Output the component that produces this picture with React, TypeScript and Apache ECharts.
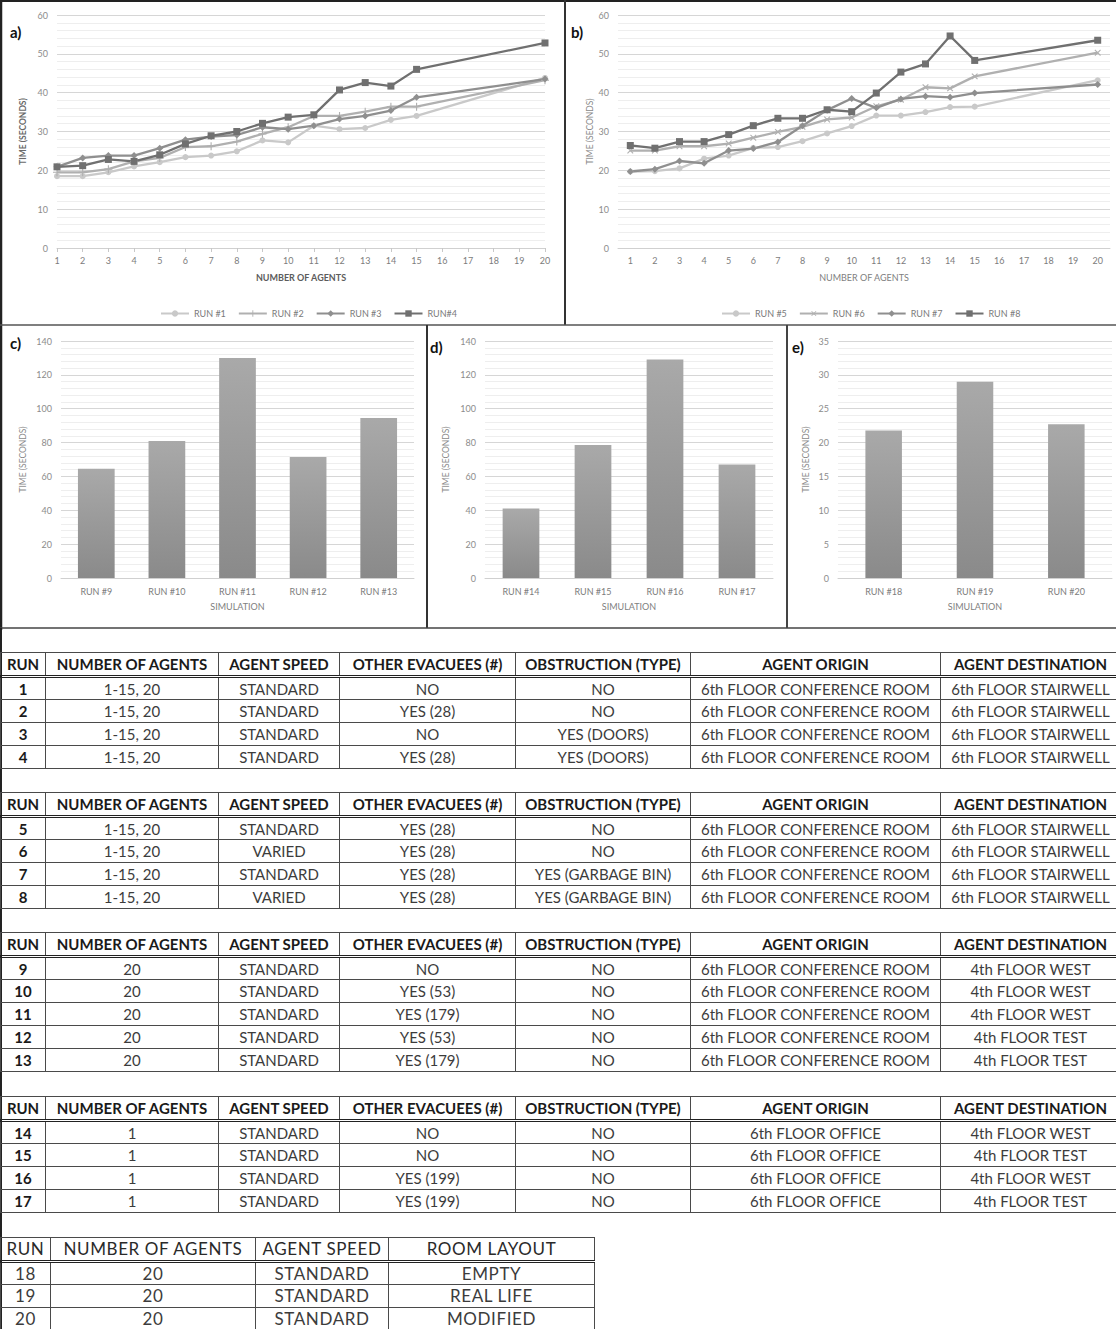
import React, { useEffect, useRef } from "react";
import * as echarts from "echarts";

const FONT = "Lato, 'Open Sans', sans-serif";

// ---------- chart data ----------
const agentCategories = ["1", "2", "3", "4", "5", "6", "7", "8", "9", "10", "11", "12", "13", "14", "15", "16", "17", "18", "19", "20"];

const run1 = [18.5, 18.5, 19.5, 21.0, 22.1, 23.4, 23.8, 24.9, 27.7, 27.2, 31.5, 30.6, 30.9, 33.0, 34.0, null, null, null, null, 43.8];
const run2 = [19.5, 19.5, 20.3, 22.3, 23.2, 26.0, 26.2, 27.4, 29.4, 31.1, 34.0, 34.0, 35.1, 36.4, 36.4, null, null, null, null, 43.2];
const run3 = [20.9, 23.2, 23.8, 23.8, 25.7, 27.9, 28.7, 29.1, 31.1, 30.6, 31.5, 33.2, 34.0, 35.4, 38.8, null, null, null, null, 43.5];
const run4 = [20.9, 21.2, 22.8, 22.3, 24.0, 26.8, 28.9, 30.0, 32.1, 33.7, 34.3, 40.7, 42.6, 41.7, 46.0, null, null, null, null, 52.8];

const run5 = [19.7, 19.8, 20.5, 23.0, 23.8, 25.8, 26.0, 27.5, 29.5, 31.4, 34.1, 34.1, 35.0, 36.3, 36.4, null, null, null, null, 43.2];
const run6 = [25.1, 25.1, 26.2, 26.2, 26.9, 28.4, 29.9, 31.2, 33.1, 33.6, 36.5, 38.2, 41.4, 41.1, 44.2, null, null, null, null, 50.3];
const run7 = [19.7, 20.3, 22.4, 21.8, 25.1, 25.6, 27.3, 31.5, 35.5, 38.5, 36.1, 38.4, 39.1, 38.8, 39.9, null, null, null, null, 42.1];
const run8 = [26.4, 25.7, 27.4, 27.4, 29.2, 31.5, 33.4, 33.4, 35.6, 35.1, 39.9, 45.3, 47.4, 54.6, 48.3, null, null, null, null, 53.5];

const simC = ["RUN #9", "RUN #10", "RUN #11", "RUN #12", "RUN #13"];
const timeC = [64.5, 81, 130, 71.5, 94.5];
const simD = ["RUN #14", "RUN #15", "RUN #16", "RUN #17"];
const timeD = [41, 78.5, 129, 67];
const simE = ["RUN #18", "RUN #19", "RUN #20"];
const timeE = [21.8, 29, 22.7];

// ---------- table data ----------
const tableHeader = ["RUN", "NUMBER OF AGENTS", "AGENT SPEED", "OTHER EVACUEES (#)", "OBSTRUCTION (TYPE)", "AGENT ORIGIN", "AGENT DESTINATION"];
const table1Rows = [
  ["1", "1-15, 20", "STANDARD", "NO", "NO", "6th FLOOR CONFERENCE ROOM", "6th FLOOR STAIRWELL"],
  ["2", "1-15, 20", "STANDARD", "YES (28)", "NO", "6th FLOOR CONFERENCE ROOM", "6th FLOOR STAIRWELL"],
  ["3", "1-15, 20", "STANDARD", "NO", "YES (DOORS)", "6th FLOOR CONFERENCE ROOM", "6th FLOOR STAIRWELL"],
  ["4", "1-15, 20", "STANDARD", "YES (28)", "YES (DOORS)", "6th FLOOR CONFERENCE ROOM", "6th FLOOR STAIRWELL"],
];
const table2Rows = [
  ["5", "1-15, 20", "STANDARD", "YES (28)", "NO", "6th FLOOR CONFERENCE ROOM", "6th FLOOR STAIRWELL"],
  ["6", "1-15, 20", "VARIED", "YES (28)", "NO", "6th FLOOR CONFERENCE ROOM", "6th FLOOR STAIRWELL"],
  ["7", "1-15, 20", "STANDARD", "YES (28)", "YES (GARBAGE BIN)", "6th FLOOR CONFERENCE ROOM", "6th FLOOR STAIRWELL"],
  ["8", "1-15, 20", "VARIED", "YES (28)", "YES (GARBAGE BIN)", "6th FLOOR CONFERENCE ROOM", "6th FLOOR STAIRWELL"],
];
const table3Rows = [
  ["9", "20", "STANDARD", "NO", "NO", "6th FLOOR CONFERENCE ROOM", "4th FLOOR WEST"],
  ["10", "20", "STANDARD", "YES (53)", "NO", "6th FLOOR CONFERENCE ROOM", "4th FLOOR WEST"],
  ["11", "20", "STANDARD", "YES (179)", "NO", "6th FLOOR CONFERENCE ROOM", "4th FLOOR WEST"],
  ["12", "20", "STANDARD", "YES (53)", "NO", "6th FLOOR CONFERENCE ROOM", "4th FLOOR TEST"],
  ["13", "20", "STANDARD", "YES (179)", "NO", "6th FLOOR CONFERENCE ROOM", "4th FLOOR TEST"],
];
const table4Rows = [
  ["14", "1", "STANDARD", "NO", "NO", "6th FLOOR OFFICE", "4th FLOOR WEST"],
  ["15", "1", "STANDARD", "NO", "NO", "6th FLOOR OFFICE", "4th FLOOR TEST"],
  ["16", "1", "STANDARD", "YES (199)", "NO", "6th FLOOR OFFICE", "4th FLOOR WEST"],
  ["17", "1", "STANDARD", "YES (199)", "NO", "6th FLOOR OFFICE", "4th FLOOR TEST"],
];
const table5Header = ["RUN", "NUMBER OF AGENTS", "AGENT SPEED", "ROOM LAYOUT"];
const table5Rows = [
  ["18", "20", "STANDARD", "EMPTY"],
  ["19", "20", "STANDARD", "REAL LIFE"],
  ["20", "20", "STANDARD", "MODIFIED"],
];

const mainWidths = [45, 173, 121, 176, 175, 250, 180];
const layoutWidths = [50, 205, 133, 206];

// ---------- chart option ----------
const PLUS = "path://M4.3,0H5.7V4.3H10V5.7H5.7V10H4.3V5.7H0V4.3H4.3Z";

const C1 = "#c9c9c9";
const C2 = "#b0b0b0";
const C3 = "#8f8f8f";
const C4 = "#707070";

function lineSeries(name: string, data: (number | null)[], color: string, symbol: string, size: number, axis: number, rotate = 0) {
  return {
    type: "line",
    name,
    data,
    xAxisIndex: axis,
    yAxisIndex: axis,
    connectNulls: true,
    symbol,
    symbolSize: size,
    symbolRotate: rotate,
    showAllSymbol: true,
    lineStyle: { color, width: 2.3 },
    itemStyle: { color, borderWidth: 0 },
    emphasis: { disabled: true },
  };
}

function valueAxis(gridIndex: number, max: number, interval: number, nameGap: number, bold: boolean) {
  return {
    type: "value",
    gridIndex,
    min: 0,
    max,
    interval,
    name: "TIME (SECONDS)",
    nameLocation: "middle",
    nameGap,
    nameTextStyle: { fontSize: 8.5, color: bold ? "#6a6a6a" : "#8a8a8a", fontWeight: bold ? "bold" : "normal", fontFamily: FONT },
    axisLabel: { fontSize: 9, color: "#8c8c8c", margin: 9, fontFamily: FONT },
    axisLine: { show: false },
    axisTick: { show: false },
    splitLine: { show: true, lineStyle: { color: "#d6d6d6", width: 1 } },
    minorTick: { show: false, splitNumber: 5 },
    minorSplitLine: { show: true, lineStyle: { color: "#eeeeee", width: 1 } },
  };
}

function catAxis(gridIndex: number, data: string[], name: string, boundaryGap: boolean, ticks: boolean, bold: boolean, nameGap: number, margin: number) {
  return {
    type: "category",
    gridIndex,
    data,
    boundaryGap,
    name,
    nameLocation: "middle",
    nameGap,
    nameTextStyle: { fontSize: 9, color: bold ? "#5c5c5c" : "#808080", fontWeight: bold ? "bold" : "normal", fontFamily: FONT },
    axisLine: { show: true, lineStyle: { color: "#d0d0d0", width: 1 } },
    axisTick: { show: ticks, length: 4, alignWithLabel: true, lineStyle: { color: "#c8c8c8" } },
    axisLabel: { fontSize: 9, color: "#7c7c7c", margin, fontFamily: FONT, interval: 0 },
    splitLine: { show: false },
  };
}

function barSeries(data: number[], axis: number, width: string) {
  return {
    type: "bar",
    data,
    xAxisIndex: axis,
    yAxisIndex: axis,
    barWidth: width,
    itemStyle: {
      color: new echarts.graphic.LinearGradient(0, 0, 0, 1, [
        { offset: 0, color: "#a9a9a9" },
        { offset: 1, color: "#8a8a8a" },
      ]),
    },
    emphasis: { disabled: true },
  };
}

function border(x1: number, y1: number, x2: number, y2: number, color = "#2e2e2e", w = 2) {
  return { type: "line", shape: { x1, y1, x2, y2 }, style: { stroke: color, lineWidth: w }, silent: true };
}

function panelLabel(text: string, x: number, y: number) {
  return {
    type: "text",
    x,
    y,
    style: { text, fontSize: 15, fontWeight: "bold", fill: "#111", fontFamily: FONT, textVerticalAlign: "middle", verticalAlign: "middle" },
    silent: true,
  };
}

function buildOption() {
  return {
    animation: false,
    backgroundColor: "#ffffff",
    textStyle: { fontFamily: FONT },
    grid: [
      { left: 57, top: 15, width: 488, height: 233 },
      { left: 618, top: 15, width: 492, height: 233 },
      { left: 61, top: 341, width: 353, height: 237 },
      { left: 485, top: 341, width: 288, height: 237 },
      { left: 838, top: 341, width: 274, height: 237 },
    ],
    xAxis: [
      catAxis(0, agentCategories, "NUMBER OF AGENTS", false, true, true, 25, 8),
      catAxis(1, agentCategories, "NUMBER OF AGENTS", true, false, false, 25, 8),
      catAxis(2, simC, "SIMULATION", true, false, false, 24, 9),
      catAxis(3, simD, "SIMULATION", true, false, false, 24, 9),
      catAxis(4, simE, "SIMULATION", true, false, false, 24, 9),
    ],
    yAxis: [
      valueAxis(0, 60, 10, 30, true),
      valueAxis(1, 60, 10, 20, false),
      valueAxis(2, 140, 20, 34, false),
      valueAxis(3, 140, 20, 35, false),
      valueAxis(4, 35, 5, 28, false),
    ],
    legend: [
      {
        data: ["RUN #1", "RUN #2", "RUN #3", "RUN#4"],
        left: 155,
        top: 304,
        itemWidth: 28,
        itemHeight: 8,
        itemGap: 12,
        textStyle: { fontSize: 9, color: "#7a7a7a", fontFamily: FONT },
        selectedMode: false,
      },
      {
        data: ["RUN #5", "RUN #6", "RUN #7", "RUN #8"],
        left: 716,
        top: 304,
        itemWidth: 28,
        itemHeight: 8,
        itemGap: 12,
        textStyle: { fontSize: 9, color: "#7a7a7a", fontFamily: FONT },
        selectedMode: false,
      },
    ],
    series: [
      lineSeries("RUN #1", run1, C1, "circle", 6, 0),
      lineSeries("RUN #2", run2, C2, PLUS, 8, 0),
      lineSeries("RUN #3", run3, C3, "diamond", 7, 0),
      lineSeries("RUN#4", run4, C4, "rect", 7, 0),
      lineSeries("RUN #5", run5, C1, "circle", 6, 1),
      lineSeries("RUN #6", run6, C2, PLUS, 8, 1, 45),
      lineSeries("RUN #7", run7, C3, "diamond", 7, 1),
      lineSeries("RUN #8", run8, C4, "rect", 7, 1),
      barSeries(timeC, 2, "52%"),
      barSeries(timeD, 3, "51%"),
      barSeries(timeE, 4, "40%"),
    ],
    graphic: [
      border(1, 0, 1, 630, "#222", 2.5),
      border(0, 1, 1116, 1, "#222", 2),
      border(565, 0, 565, 325, "#333", 2),
      border(0, 325, 1116, 325, "#555", 1.5),
      border(427, 325, 427, 628, "#333", 2),
      border(787, 325, 787, 628, "#444", 2),
      border(0, 628, 1116, 628, "#444", 1.5),
      panelLabel("a)", 10, 32),
      panelLabel("b)", 571, 32),
      panelLabel("c)", 10, 343),
      panelLabel("d)", 430, 347),
      panelLabel("e)", 792, 347),
    ],
  };
}

function Chart() {
  const ref = useRef<HTMLDivElement>(null);
  useEffect(() => {
    if (!ref.current) return;
    const chart = echarts.init(ref.current, null, { renderer: "svg" });
    chart.setOption(buildOption() as any);
    return () => chart.dispose();
  }, []);
  return <div ref={ref} style={{ position: "absolute", left: 0, top: 0, width: 1116, height: 630 }} />;
}

function DataTable(props: {
  top: number;
  widths: number[];
  header: string[];
  rows: string[][];
  headerBold: boolean;
  fontSize: number;
  letterSpacing?: number;
  boldFirst: boolean;
}) {
  const { top, widths, header, rows, headerBold, fontSize, letterSpacing = 0, boldFirst } = props;
  const total = widths.reduce((a, b) => a + b, 0);
  const cell: React.CSSProperties = {
    border: "1px solid #4a4a4a",
    padding: 0,
    textAlign: "center",
    whiteSpace: "nowrap",
    overflow: "hidden",
    lineHeight: "20px",
  };
  return (
    <table
      style={{
        position: "absolute",
        top,
        left: 0,
        width: total,
        borderCollapse: "collapse",
        tableLayout: "fixed",
        fontFamily: FONT,
        fontSize,
        letterSpacing,
        color: "#3c3c3c",
      }}
    >
      <colgroup>
        {widths.map((w, i) => (
          <col key={i} style={{ width: w }} />
        ))}
      </colgroup>
      <thead>
        <tr style={{ height: 24 }}>
          {header.map((h, i) => (
            <th
              key={i}
              style={{ ...cell, borderBottom: "3px double #222", fontWeight: headerBold ? 700 : 400, color: headerBold ? "#1a1a1a" : "#2a2a2a" }}
            >
              {h}
            </th>
          ))}
        </tr>
      </thead>
      <tbody>
        {rows.map((r, ri) => (
          <tr key={ri} style={{ height: 23 }}>
            {r.map((c, ci) => (
              <td
                key={ci}
                style={{ ...cell, fontWeight: boldFirst && ci === 0 ? 700 : 400, color: boldFirst && ci === 0 ? "#1a1a1a" : "#3c3c3c" }}
              >
                {c}
              </td>
            ))}
          </tr>
        ))}
      </tbody>
    </table>
  );
}

export default function App() {
  return (
    <div
      style={{
        position: "absolute",
        left: 0,
        top: 0,
        width: 1116,
        height: 1329,
        overflow: "hidden",
        background: "#ffffff",
      }}
    >
      <Chart />
      <div style={{ position: "absolute", left: 0, top: 628, width: 2, height: 701, background: "#222" }} />
      <DataTable top={652} widths={mainWidths} header={tableHeader} rows={table1Rows} headerBold fontSize={15} boldFirst />
      <DataTable top={792} widths={mainWidths} header={tableHeader} rows={table2Rows} headerBold fontSize={15} boldFirst />
      <DataTable top={932} widths={mainWidths} header={tableHeader} rows={table3Rows} headerBold fontSize={15} boldFirst />
      <DataTable top={1096} widths={mainWidths} header={tableHeader} rows={table4Rows} headerBold fontSize={15} boldFirst />
      <DataTable
        top={1237}
        widths={layoutWidths}
        header={table5Header}
        rows={table5Rows}
        headerBold={false}
        fontSize={17}
        letterSpacing={0.6}
        boldFirst={false}
      />
    </div>
  );
}
